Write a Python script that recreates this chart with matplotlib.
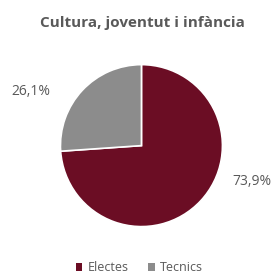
import matplotlib
matplotlib.use("Agg")
import matplotlib.pyplot as plt
from matplotlib.patches import Patch

categories = ["Electes", "Tecnics"]
values = [73.9, 26.1]
colors = ["#6B0D24", "#8C8C8C"]
title = "Cultura, joventut i infància"

plt.rcParams['font.family'] = ['Open Sans', 'DejaVu Sans']
text_color = "#595959"

fig = plt.figure(figsize=(2.76, 2.75), dpi=100)
ax = fig.add_axes([0.219, 0.176, 0.587, 0.589])
wedges, _ = ax.pie(values, colors=colors, startangle=90, counterclock=False,
                   radius=1.0, wedgeprops=dict(edgecolor="white", linewidth=1.2))
ax.set_xlim(-1, 1)
ax.set_ylim(-1, 1)
ax.set_aspect("equal")

# etiquetes de percentatge
label_pos = [(1.36, -0.44), (-1.36, 0.67)]
for v, (lx, ly) in zip(values, label_pos):
    ax.text(lx, ly, f"{v:.1f}%".replace(".", ","), ha="center", va="center",
            fontsize=10, color=text_color)

fig.text(0.515, 0.915, title, ha="center", va="center", fontsize=11,
         fontweight="bold", color=text_color)

handles = [Patch(facecolor=c, edgecolor="none") for c in colors]
fig.legend(handles, categories, loc="center", bbox_to_anchor=(0.505, 0.026),
           ncol=2, frameon=False, fontsize=9, handlelength=0.55, handleheight=0.55,
           handletextpad=0.4, columnspacing=1.6, labelcolor=text_color)

fig.savefig("out.png", dpi=100)
